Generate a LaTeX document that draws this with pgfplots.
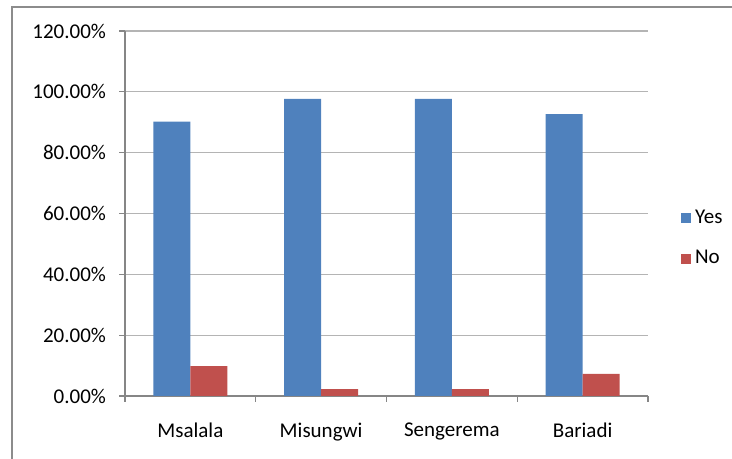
\documentclass[border=0pt]{standalone}
\usepackage{pgfplots}
\pgfplotsset{compat=1.18}
\usepackage{fontspec}
\setmainfont{Carlito}
\definecolor{yesblue}{HTML}{4F81BD}
\definecolor{nored}{HTML}{C0504D}
\definecolor{axisgray}{HTML}{868686}
\definecolor{gridgray}{HTML}{B4B4B4}
\definecolor{framegray}{HTML}{8C8C8C}

\begin{document}
\begin{tikzpicture}[x=1pt,y=1pt]
\useasboundingbox (0,0) rectangle (366,229.5);
% chart frame
\draw[framegray, line width=1pt] (5.9,-20) -- (5.9,226.2) -- (400,226.2);
\begin{axis}[
  at={(62.5pt,31.5pt)}, anchor=south west,
  scale only axis, width=261.5pt, height=182.5pt,
  font=\fontsize{10.5}{12}\selectfont,
  ybar=0pt, bar width=18.5pt,
  xmin=-0.5, xmax=3.5, ymin=0, ymax=120,
  axis lines=left, axis line style={-, axisgray, line width=0.6pt},
  tick align=outside, tick style={axisgray, line width=0.6pt},
  major tick length=3pt,
  xtick={-0.5,0.5,1.5,2.5,3.5},
  xticklabels={Msalala,Misungwi,Sengerema,Bariadi},
  x tick label as interval,
  ytick={0,20,40,60,80,100,120},
  yticklabels={0.00\%,20.00\%,40.00\%,60.00\%,80.00\%,100.00\%,120.00\%},
  ymajorgrids, grid style={gridgray, line width=0.6pt},
  yticklabel style={xshift=-3pt},
  xticklabel style={yshift=-7pt},
  legend style={draw=none, fill=none, at={(1.051,0.432)}, anchor=west,
    font=\fontsize{10.5}{12}\selectfont, row sep=8pt},
  legend image code/.code={\fill[#1] (-1.5pt,-2.5pt) rectangle (3.5pt,2.5pt);},
  legend cell align=left,
]
\addplot[fill=yesblue, draw=none] coordinates {(0,90.2) (1,97.7) (2,97.7) (3,92.7)};
\addplot[fill=nored, draw=none] coordinates {(0,9.8) (1,2.3) (2,2.3) (3,7.3)};
\legend{Yes,No}
\end{axis}
\end{tikzpicture}
\end{document}
